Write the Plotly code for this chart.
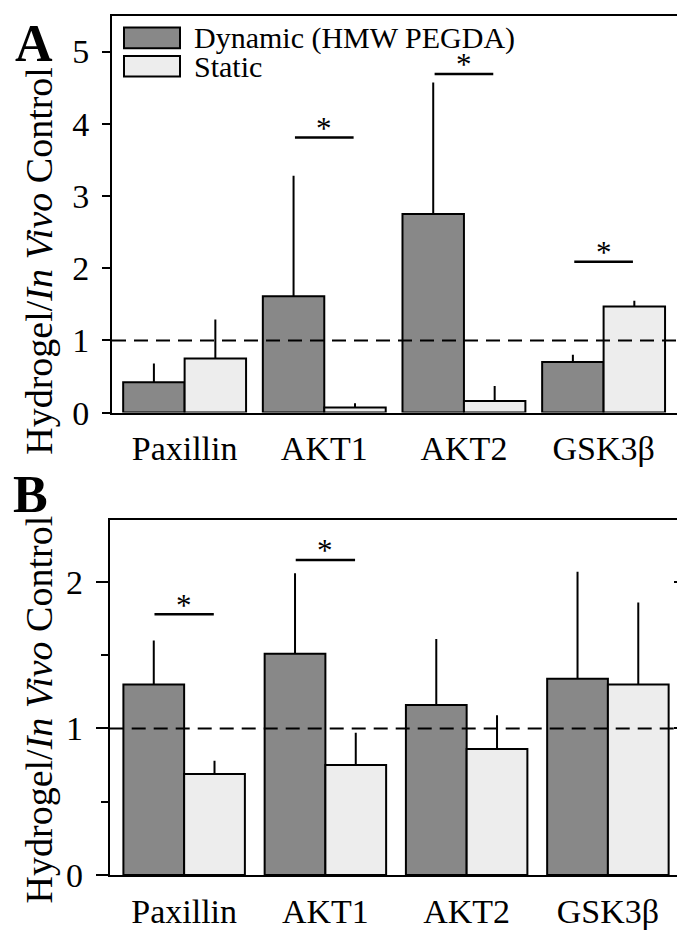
import plotly.graph_objects as go

# ---------------- data ----------------
categories = ["Paxillin", "AKT1", "AKT2", "GSK3β"]
series_names = ["Dynamic (HMW PEGDA)", "Static"]

# Panel A
a_dynamic = [0.42, 1.61, 2.75, 0.70]
a_dynamic_err = [0.26, 1.67, 1.82, 0.10]
a_static = [0.75, 0.07, 0.16, 1.47]
a_static_err = [0.54, 0.06, 0.21, 0.08]
a_sig_idx = [1, 2, 3]
a_sig_y = [3.81, 4.69, 2.09]

# Panel B
b_dynamic = [1.30, 1.51, 1.16, 1.34]
b_dynamic_err = [0.30, 0.55, 0.45, 0.73]
b_static = [0.69, 0.75, 0.86, 1.30]
b_static_err = [0.09, 0.22, 0.23, 0.56]
b_sig_idx = [0, 1]
b_sig_y = [1.78, 2.15]

reference_level = 1.0

# ---------------- style ----------------
W, H = 685, 935
FONT = "Liberation Serif"
DARK = "#888888"
LIGHT = "#ededed"
BLACK = "#000000"

def px_x(p):
    return p / W

def px_y(p):
    return 1 - p / H

fig = go.Figure()

panels = [
    dict(xa="x", ya="y", ya_over="y3", dyn=a_dynamic, dyn_err=a_dynamic_err,
         sta=a_static, sta_err=a_static_err, sig_idx=a_sig_idx, sig_y=a_sig_y,
         xrange=[-0.52, 3.59], yrange=[0, 5.49], bw=0.44),
    dict(xa="x2", ya="y2", ya_over="y4", dyn=b_dynamic, dyn_err=b_dynamic_err,
         sta=b_static, sta_err=b_static_err, sig_idx=b_sig_idx, sig_y=b_sig_y,
         xrange=[-0.527, 3.56], yrange=[0, 2.42], bw=0.43),
]

xpos = list(range(len(categories)))
annotations = []

for k, p in enumerate(panels):
    for vals, errs, col, off, name in [
        (p["dyn"], p["dyn_err"], DARK, -p["bw"], series_names[0]),
        (p["sta"], p["sta_err"], LIGHT, 0.0, series_names[1]),
    ]:
        fig.add_trace(go.Bar(
            x=xpos, y=vals, name=name, showlegend=False,
            xaxis=p["xa"], yaxis=p["ya"],
            width=p["bw"], offset=off,
            marker=dict(color=col, line=dict(color=BLACK, width=2)),
            error_y=dict(type="data", symmetric=False, array=errs,
                         arrayminus=[0] * len(errs), width=0,
                         thickness=2, color=BLACK),
        ))
    # significance bars
    lx, ly = [], []
    for i, yv in zip(p["sig_idx"], p["sig_y"]):
        lx += [i - 0.21, i + 0.21, None]
        ly += [yv, yv, None]
    fig.add_trace(go.Scatter(
        x=lx, y=ly, mode="lines", showlegend=False, hoverinfo="skip",
        line=dict(color=BLACK, width=2.5),
        xaxis=p["xa"], yaxis=p["ya"]))
    for i, yv in zip(p["sig_idx"], p["sig_y"]):
        annotations.append(dict(
            text="*", x=i, y=yv, xref=p["xa"], yref=p["ya"], showarrow=False,
            xanchor="center", yanchor="middle", yshift=9,
            font=dict(family=FONT, size=31, color=BLACK)))
    # reference dashed line (drawn on overlay axis so it sits above bars)
    fig.add_trace(go.Scatter(
        x=p["xrange"], y=[reference_level, reference_level], mode="lines",
        showlegend=False, hoverinfo="skip",
        line=dict(color=BLACK, width=2, dash="14px,8px"),
        xaxis=p["xa"], yaxis=p["ya_over"]))

axis_common = dict(showline=True, linecolor=BLACK, linewidth=2, mirror=True,
                   showgrid=False, zeroline=False,
                   tickfont=dict(family=FONT, size=34, color=BLACK))

fig.update_layout(
    width=W, height=H,
    margin=dict(l=0, r=0, t=0, b=0),
    paper_bgcolor="white", plot_bgcolor="white",
    barmode="overlay",
    xaxis=dict(axis_common, domain=[px_x(104), px_x(678)], anchor="y",
               range=panels[0]["xrange"], tickvals=xpos, ticktext=categories,
               ticks="", ticklabelstandoff=5),
    yaxis=dict(axis_common, domain=[px_y(413), px_y(8.3)], anchor="x",
               range=panels[0]["yrange"], tickmode="linear", tick0=0, dtick=1,
               ticks="outside", ticklen=8, tickwidth=2, tickcolor=BLACK,
               ticklabelstandoff=6),
    yaxis3=dict(overlaying="y", side="right", anchor="x", range=panels[0]["yrange"],
                tickmode="linear", tick0=0, dtick=1, ticks="inside", ticklen=9,
                tickwidth=2, tickcolor=BLACK, showticklabels=False, showgrid=False,
                zeroline=False, showline=False),
    xaxis2=dict(axis_common, domain=[px_x(101.7), px_x(679)], anchor="y2",
                range=panels[1]["xrange"], tickvals=xpos, ticktext=categories,
                ticks="", ticklabelstandoff=5),
    yaxis2=dict(axis_common, domain=[px_y(885), px_y(523)], anchor="x2",
                range=panels[1]["yrange"], tickmode="linear", tick0=0, dtick=1,
                ticks="outside", ticklen=12, tickwidth=2, tickcolor=BLACK,
                ticklabelstandoff=6,
                minor=dict(dtick=0.5, tick0=0, ticks="outside", ticklen=7,
                           tickwidth=2, tickcolor=BLACK, showgrid=False)),
    yaxis4=dict(overlaying="y2", side="right", anchor="x2", range=panels[1]["yrange"],
                tickmode="linear", tick0=0, dtick=1, ticks="inside", ticklen=13,
                tickwidth=2, tickcolor=BLACK, showticklabels=False, showgrid=False,
                zeroline=False, showline=False,
                minor=dict(dtick=0.5, tick0=0, ticks="inside", ticklen=8,
                           tickwidth=2, tickcolor=BLACK, showgrid=False)),
    showlegend=False,
)

# legend swatches (panel A)
shapes = []
for (y0, y1), col in [((20, 41), DARK), ((49, 70), LIGHT)]:
    shapes.append(dict(type="rect", xref="paper", yref="paper",
                       x0=px_x(116), x1=px_x(172), y0=px_y(y1), y1=px_y(y0),
                       fillcolor=col, line=dict(color=BLACK, width=2)))
fig.update_layout(shapes=shapes)

for txt, yc in [(series_names[0], 31), (series_names[1], 60)]:
    annotations.append(dict(text=txt, x=px_x(184), y=px_y(yc), xanchor="left",
                            yanchor="middle", xref="paper", yref="paper",
                            showarrow=False,
                            font=dict(family=FONT, size=30, color=BLACK)))

ytitle = "Hydrogel/<i>In Vivo</i> Control"
for yc in [258, 716]:
    annotations.append(dict(text=ytitle, x=px_x(31), y=px_y(yc), textangle=-90,
                            xref="paper", yref="paper", xanchor="center",
                            yanchor="middle", showarrow=False,
                            font=dict(family=FONT, size=38, color=BLACK)))
for txt, xc, yc in [("<b>A</b>", 26, 36), ("<b>B</b>", 22, 497)]:
    annotations.append(dict(text=txt, x=px_x(xc), y=px_y(yc), xref="paper",
                            yref="paper", xanchor="center", yanchor="middle",
                            showarrow=False,
                            font=dict(family=FONT, size=52, color=BLACK)))
fig.update_layout(annotations=annotations)

fig.write_html("out.html")
